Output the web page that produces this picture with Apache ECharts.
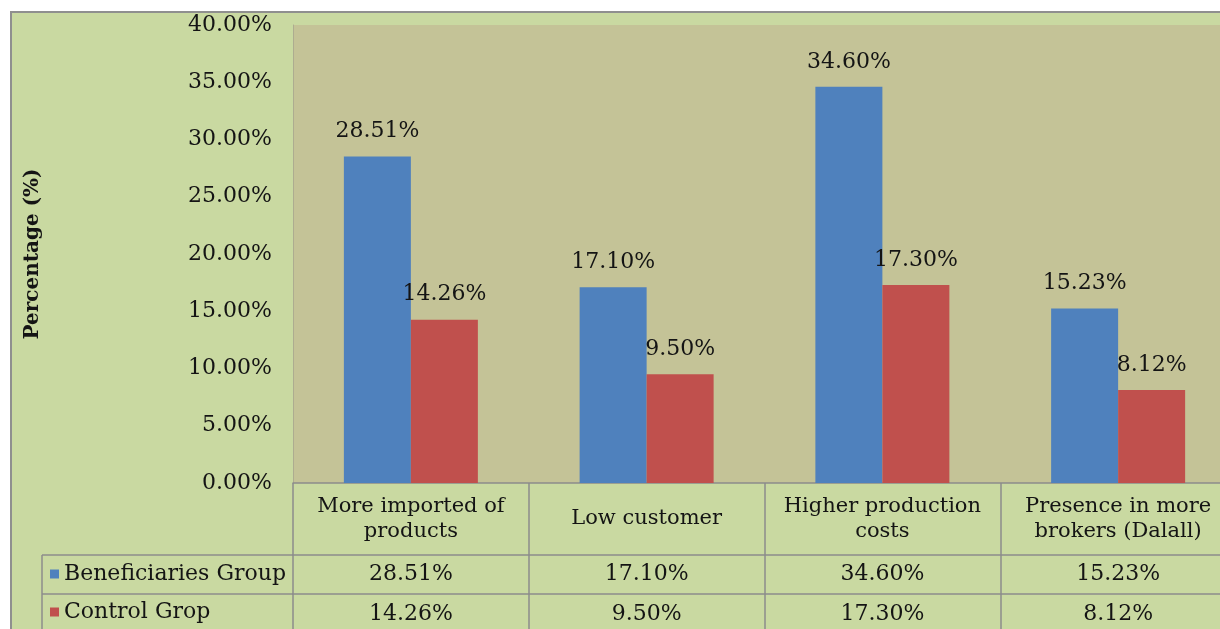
<!DOCTYPE html>
<html>
<head>
<meta charset="utf-8">
<script src="https://cdn.jsdelivr.net/npm/echarts@6/dist/echarts.min.js"></script>
<style>
  html, body { margin: 0; padding: 0; background: #fff; overflow: hidden; }
  .frame {
    position: absolute; left: 10px; top: 11px; width: 1240px; height: 700px;
    background: #c9d9a1; border: 2px solid #8f8f8f;
  }
  #chart { position: absolute; left: 0; top: 0; width: 1220px; height: 629px; }
</style>
</head>
<body>
<div class="frame"></div>
<div id="chart"></div>
<script>
// 数据
const categories = ["More imported of\nproducts", "Low customer", "Higher production\ncosts", "Presence in more\nbrokers (Dalall)"];
const beneficiaries = [28.51, 17.10, 34.60, 15.23];
const control = [14.26, 9.50, 17.30, 8.12];
const seriesNames = ["Beneficiaries Group", "Control Grop"];
const yMin = 0, yMax = 40, yStep = 5;

const FONT = "DejaVu Serif";
const TXT = "#141414";
const LINE = "#8c8c8c";
const pct = (v) => Number(v).toFixed(2) + "%";

const myChart = echarts.init(document.getElementById("chart"));

// 数据表格的一行（用类目轴画出）
function tableRow(offset, rowH, values) {
  return {
    type: "category",
    gridIndex: 0,
    position: "bottom",
    offset: offset,
    data: categories,
    axisLine: { show: true, lineStyle: { color: LINE, width: 1.5 } },
    axisTick: { show: true, length: rowH, lineStyle: { color: LINE, width: 1.5 } },
    axisLabel: {
      show: true,
      interval: 0,
      margin: rowH / 2,
      verticalAlign: "middle",
      fontFamily: FONT,
      fontSize: values ? 22 : 21,
      lineHeight: 25,
      color: TXT,
      formatter: values ? (v, i) => pct(values[i]) : null,
    },
    splitLine: { show: false },
  };
}

const barLabel = {
  show: true, position: "top", distance: 14,
  fontFamily: FONT, fontSize: 22, color: TXT,
  formatter: (p) => pct(p.value),
};

const option = {
  backgroundColor: "transparent",
  animation: false,
  grid: {
    left: 293,
    top: 25,
    width: 943,
    height: 458,
    show: true,
    backgroundColor: "#c4c397",
    borderWidth: 0,
    containLabel: false,
    outerBoundsMode: "none",
  },
  legend: {
    orient: "vertical",
    left: 50,
    top: 562,
    padding: 0,
    itemGap: 14,
    itemWidth: 9,
    itemHeight: 9,
    icon: "rect",
    selectedMode: false,
    data: seriesNames,
    textStyle: { fontFamily: FONT, fontSize: 22, lineHeight: 24, color: TXT },
  },
  xAxis: [
    tableRow(0, 72, null),
    tableRow(72, 39, beneficiaries),
    tableRow(111, 40, control),
  ],
  yAxis: {
    type: "value",
    min: yMin,
    max: yMax,
    interval: yStep,
    name: "Percentage (%)",
    nameLocation: "middle",
    nameGap: 250,
    nameRotate: 90,
    nameTextStyle: { fontFamily: FONT, fontSize: 20, fontWeight: "bold", color: TXT },
    axisLine: { show: true, lineStyle: { color: "#adac90", width: 1 } },
    axisTick: { show: false },
    splitLine: { show: false },
    axisLabel: {
      margin: 21,
      fontFamily: FONT,
      fontSize: 22,
      color: TXT,
      formatter: (v) => pct(v),
    },
  },
  series: [
    {
      name: seriesNames[0],
      type: "bar",
      data: beneficiaries,
      barWidth: 67,
      barGap: "0%",
      itemStyle: { color: "#4f81bd" },
      label: barLabel,
    },
    {
      name: seriesNames[1],
      type: "bar",
      data: control,
      barWidth: 67,
      barGap: "0%",
      itemStyle: { color: "#c0504d" },
      label: barLabel,
    },
  ],
  // 左侧图例列的表格线
  graphic: [
    { type: "line", shape: { x1: 42, y1: 555, x2: 293, y2: 555 }, style: { stroke: LINE, lineWidth: 1.5 } },
    { type: "line", shape: { x1: 42, y1: 594, x2: 293, y2: 594 }, style: { stroke: LINE, lineWidth: 1.5 } },
    { type: "line", shape: { x1: 42, y1: 555, x2: 42, y2: 640 }, style: { stroke: LINE, lineWidth: 1.5 } },
  ],
};

myChart.setOption(option);
</script>
</body>
</html>
